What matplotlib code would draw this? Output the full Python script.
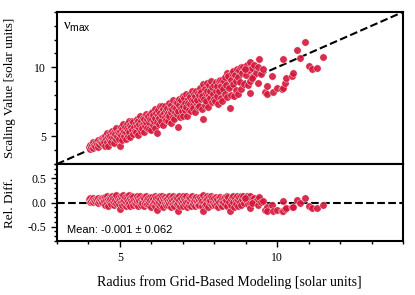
import matplotlib
matplotlib.use("Agg")
import matplotlib.pyplot as plt
from matplotlib.ticker import MultipleLocator, FuncFormatter
import numpy as np

plt.rcParams['mathtext.fontset'] = 'custom'
plt.rcParams['mathtext.rm'] = 'Liberation Sans'
plt.rcParams['mathtext.it'] = 'Liberation Serif'

# Radius from grid-based modeling (x) and scaling value (y)
radius_grid = [
    4.01, 4.04, 4.06, 4.09, 4.11, 4.13, 4.16, 4.18, 4.21, 4.23, 4.26, 4.29, 4.31, 4.33, 4.36, 4.39, 4.42, 4.44, 4.47, 4.49,
    4.51, 4.52, 4.54, 4.56, 4.58, 4.60, 4.61, 4.63, 4.65, 4.67, 4.69, 4.70, 4.72, 4.74, 4.76, 4.78, 4.80, 4.82, 4.84, 4.85, 4.87, 4.89, 4.91, 4.93, 4.96, 4.98,
    5.00, 5.01, 5.03, 5.04, 5.06, 5.08, 5.09, 5.11, 5.13, 5.14, 5.16, 5.18, 5.19, 5.21, 5.23, 5.25, 5.26, 5.28, 5.30, 5.32, 5.33, 5.35, 5.37, 5.39, 5.41, 5.43, 5.46, 5.48,
    5.50, 5.52, 5.53, 5.55, 5.57, 5.59, 5.60, 5.62, 5.64, 5.66, 5.67, 5.69, 5.71, 5.73, 5.75, 5.76, 5.78, 5.80, 5.82, 5.84, 5.85, 5.87, 5.89, 5.91, 5.93, 5.95, 5.97, 5.99,
    6.01, 6.03, 6.04, 6.06, 6.08, 6.10, 6.12, 6.13, 6.15, 6.17, 6.18, 6.20, 6.22, 6.24, 6.25, 6.27, 6.29, 6.31, 6.33, 6.34, 6.36, 6.38, 6.40, 6.42, 6.44, 6.45, 6.47, 6.49,
    6.50, 6.52, 6.54, 6.55, 6.57, 6.59, 6.61, 6.62, 6.64, 6.66, 6.68, 6.69, 6.71, 6.73, 6.75, 6.77, 6.78, 6.80, 6.82, 6.84, 6.86, 6.87, 6.89, 6.91, 6.93, 6.95, 6.97, 6.99,
    7.01, 7.02, 7.04, 7.06, 7.08, 7.10, 7.11, 7.13, 7.15, 7.17, 7.19, 7.20, 7.22, 7.24, 7.26, 7.28, 7.29, 7.31, 7.33, 7.35, 7.37, 7.38, 7.40, 7.42, 7.44, 7.46, 7.47, 7.49,
    7.51, 7.53, 7.55, 7.57, 7.58, 7.60, 7.62, 7.63, 7.65, 7.67, 7.69, 7.71, 7.73, 7.75, 7.76, 7.78, 7.80, 7.82, 7.84, 7.86, 7.88, 7.90, 7.92, 7.94, 7.96, 7.98,
    8.00, 8.02, 8.04, 8.06, 8.08, 8.10, 8.12, 8.14, 8.16, 8.18, 8.20, 8.22, 8.24, 8.26, 8.28, 8.31, 8.33, 8.35, 8.37, 8.40, 8.42, 8.44, 8.46, 8.50,
    8.52, 8.54, 8.56, 8.59, 8.61, 8.63, 8.65, 8.68, 8.70, 8.72, 8.75, 8.77, 8.79, 8.82, 8.84, 8.86, 8.89, 8.91, 8.94, 8.97,
    9.01, 9.03, 9.06, 9.09, 9.12, 9.15, 9.19, 9.23, 9.27, 9.32,
    8.98, 9.14, 9.20, 9.40, 9.40, 9.43, 9.48, 9.56, 9.61, 9.67, 9.67, 9.83, 9.86, 10.00, 10.15, 10.20, 10.20,
    10.26, 10.28, 10.47, 10.51, 10.62, 10.73, 10.89, 11.01, 11.11, 11.28, 11.45,
]
scaling_value = [
    4.26, 4.09, 4.41, 4.24, 4.39, 4.15, 4.56, 4.36, 4.31, 4.56, 4.48, 4.24, 4.73, 4.45, 4.66, 4.59, 4.87, 4.49, 4.82, 4.74,
    4.61, 5.01, 4.33, 4.83, 5.21, 4.59, 4.99, 4.31, 4.82, 5.22, 4.72, 5.02, 4.57, 5.40, 4.97, 5.23, 4.55, 4.92, 5.36, 5.15, 4.80, 5.62, 5.04, 5.34, 4.78, 5.22,
    4.30, 5.36, 5.10, 5.67, 4.77, 5.54, 5.26, 5.91, 5.02, 5.41, 5.71, 4.79, 5.29, 5.90, 5.61, 5.04, 5.47, 6.11, 5.29, 5.81, 4.98, 5.66, 6.10, 5.46, 5.16, 6.02, 5.70, 5.37,
    5.95, 5.34, 6.26, 5.72, 5.11, 6.14, 5.63, 5.93, 6.44, 5.37, 6.08, 5.82, 5.60, 6.36, 5.99, 5.33, 6.27, 5.76, 6.59, 6.01, 5.64, 6.25, 6.48, 5.56, 6.03, 6.64, 6.24, 5.46,
    6.25, 6.76, 5.79, 6.51, 6.11, 5.61, 6.95, 6.34, 6.67, 5.22, 6.07, 6.55, 6.88, 5.89, 6.35, 7.18, 6.70, 6.13, 7.20, 6.51, 5.79, 6.97, 6.67, 6.41, 7.21, 6.16, 6.92, 6.56,
    7.02, 6.13, 6.71, 7.38, 6.46, 6.97, 5.98, 7.28, 6.74, 6.97, 6.43, 7.63, 7.16, 6.27, 6.78, 7.50, 7.02, 6.62, 7.41, 6.80, 5.70, 7.74, 7.24, 6.38, 7.06, 7.61, 6.86, 7.90,
    7.18, 6.49, 7.77, 7.44, 6.90, 8.07, 7.14, 6.46, 7.67, 7.41, 8.02, 6.88, 7.32, 7.87, 6.80, 7.66, 8.30, 7.27, 7.08, 8.08, 7.64, 6.78, 7.89, 8.29, 7.33, 7.63, 8.13, 7.10,
    7.96, 7.21, 8.49, 7.67, 8.21, 7.00, 7.93, 6.26, 8.80, 7.70, 7.30, 8.44, 8.11, 7.57, 8.84, 8.30, 7.13, 7.99, 8.71, 7.75, 8.29, 8.98, 7.46, 8.60, 8.09, 7.73,
    8.73, 7.56, 8.28, 8.95, 7.90, 8.62, 7.31, 9.01, 8.26, 9.10, 7.81, 8.67, 9.05, 7.59, 8.45, 9.04, 9.30, 8.03, 8.75, 9.60, 7.82, 9.38, 8.49, 7.03,
    9.11, 8.01, 9.60, 8.76, 9.70, 7.89, 9.45, 8.99, 8.38, 9.85, 9.27, 8.10, 9.80, 8.92, 10.00, 8.40, 9.55, 10.05, 8.76, 9.84,
    9.45, 10.16, 8.70, 9.80, 10.35, 9.00, 9.95, 9.40, 10.20, 9.60,
    9.85, 8.12, 9.20, 8.88, 10.04, 10.60, 9.53, 9.87, 8.21, 8.67, 8.04, 9.35, 8.21, 8.48, 8.45, 8.50, 10.58,
    8.84, 9.20, 9.39, 9.56, 11.26, 10.69, 11.85, 10.10, 9.87, 9.92, 10.76,
]

axis_min, axis_max = 3, 14
rel_lim = 0.8
mean_text = "Mean: -0.001 \u00b1 0.062"
panel_label = r'$\nu_{\rm max}$'

x = np.array(radius_grid)
y = np.array(scaling_value)
rel_diff = (y - x) / x

point_color = '#d4173b'

fig = plt.figure(figsize=(4.15, 2.95), dpi=100)
W, H = 415, 295
ax1 = fig.add_axes([57 / W, 1 - 164 / H, 346 / W, 152 / H])
ax2 = fig.add_axes([57 / W, 1 - 241 / H, 346 / W, 77 / H], sharex=ax1)

serif = 'Liberation Serif'
sans = 'Liberation Sans'

ax1.plot([axis_min, axis_max], [axis_min, axis_max], ls='--', color='black', lw=1.5, zorder=1)
ax1.scatter(x, y, s=28, c=point_color, edgecolors='white', linewidths=0.3, alpha=0.9, zorder=2)
ax1.set_xlim(axis_min, axis_max)
ax1.set_ylim(axis_min, axis_max)
ax1.yaxis.set_major_locator(MultipleLocator(5))
ax1.yaxis.set_minor_locator(MultipleLocator(1))
ax1.tick_params(axis='x', which='both', bottom=False, labelbottom=False)
ax1.tick_params(axis='y', which='major', length=4.5, width=1.0, labelsize=8.5, direction='out')
ax1.tick_params(axis='y', which='minor', length=2.5, width=1.0, direction='out')
ax1.text(0.017, 0.955, panel_label, transform=ax1.transAxes, fontsize=10.5, va='top', ha='left')

ax2.axhline(0, ls='--', color='black', lw=1.5, zorder=1)
ax2.scatter(x, rel_diff, s=28, c=point_color, edgecolors='white', linewidths=0.3, alpha=0.9, zorder=2)
ax2.set_ylim(-rel_lim, rel_lim)
ax2.yaxis.set_major_locator(MultipleLocator(0.5))
ax2.yaxis.set_minor_locator(MultipleLocator(0.1))
ax2.xaxis.set_major_locator(MultipleLocator(5))
ax2.xaxis.set_minor_locator(MultipleLocator(1))
ax2.tick_params(which='major', length=4.5, width=1.0, labelsize=8.5, direction='out')
ax2.tick_params(which='minor', length=2.5, width=1.0, direction='out')
ax2.text(0.03, 0.08, mean_text, transform=ax2.transAxes, fontsize=8, family=sans, va='bottom', ha='left')

for ax in (ax1, ax2):
    for sp in ax.spines.values():
        sp.set_linewidth(1.5)
    for lab in ax.get_xticklabels() + ax.get_yticklabels():
        lab.set_family(serif)

ax2.yaxis.set_major_formatter(FuncFormatter(lambda v, p: f"{v:.1f}".replace("\u2212", "-")))

fig.text(10 / W, 1 - 88 / H, 'Scaling Value [solar units]', rotation=90, ha='center', va='center', family=serif, fontsize=9.5)
fig.text(10 / W, 1 - 203 / H, 'Rel. Diff.', rotation=90, ha='center', va='center', family=serif, fontsize=9.5)
fig.text(229 / W, 1 - 282 / H, 'Radius from Grid-Based Modeling [solar units]', ha='center', va='center', family=serif, fontsize=10)

fig.savefig('out.png', dpi=100)
